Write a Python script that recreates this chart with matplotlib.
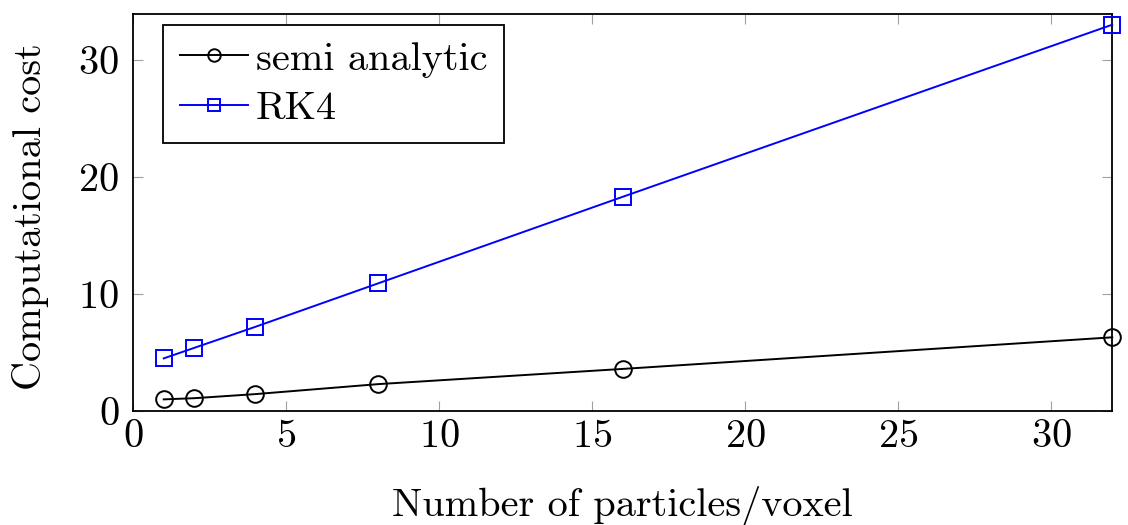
import matplotlib

matplotlib.use("Agg")
import matplotlib.pyplot as plt

# Data
particles = [1, 2, 4, 8, 16, 32]
semi_analytic = [1.0, 1.1, 1.45, 2.3, 3.6, 6.3]
rk4 = [4.5, 5.4, 7.2, 10.9, 18.3, 33.0]
x_ticks = [0, 5, 10, 15, 20, 25, 30]
y_ticks = [0, 10, 20, 30]

plt.rcParams["font.family"] = "serif"
plt.rcParams["font.serif"] = ["cmr10", "DejaVu Serif"]
plt.rcParams["mathtext.fontset"] = "cm"
plt.rcParams["axes.formatter.use_mathtext"] = True

FS = 29


def main():
    fig = plt.figure(figsize=(11.28, 5.25), dpi=100)
    ax = fig.add_axes([0.118, 0.217, 0.868, 0.756])

    ax.plot(particles, semi_analytic, color="black", lw=1.4, marker="o",
            ms=12, mfc="none", mec="black", mew=1.4, label="semi analytic",
            clip_on=False, zorder=3)
    ax.plot(particles, rk4, color="#0000ff", lw=1.4, marker="s",
            ms=12, mfc="none", mec="#0000ff", mew=1.4, label="RK4",
            clip_on=False, zorder=3)

    ax.set_xlim(0, 32)
    ax.set_ylim(0, 33.9)
    ax.set_xticks(x_ticks)
    ax.set_yticks(y_ticks)
    ax.tick_params(direction="in", length=7, width=0.8, color="#a0a0a0",
                   top=True, right=True, labelsize=FS)
    ax.tick_params(axis="x", pad=6)
    ax.tick_params(axis="y", pad=10)
    for s in ax.spines.values():
        s.set_linewidth(1.3)

    ax.set_xlabel("Number of particles/voxel", fontsize=FS)
    ax.set_ylabel("Computational cost", fontsize=FS)
    # pin label positions to where they sit in the reference
    ax.xaxis.set_label_coords(0.5, -0.19)
    ax.yaxis.set_label_coords(-0.086, 0.49)

    leg = ax.legend(loc="upper left", bbox_to_anchor=(0.031, 0.972),
                    borderaxespad=0, fontsize=FS, frameon=True,
                    fancybox=False, edgecolor="black", framealpha=1,
                    handlelength=1.7, markerscale=0.75, borderpad=0.4,
                    labelspacing=0.33, handletextpad=0.2)
    leg.get_frame().set_linewidth(1.3)

    fig.savefig("out.png", dpi=100)


if __name__ == "__main__":
    main()
